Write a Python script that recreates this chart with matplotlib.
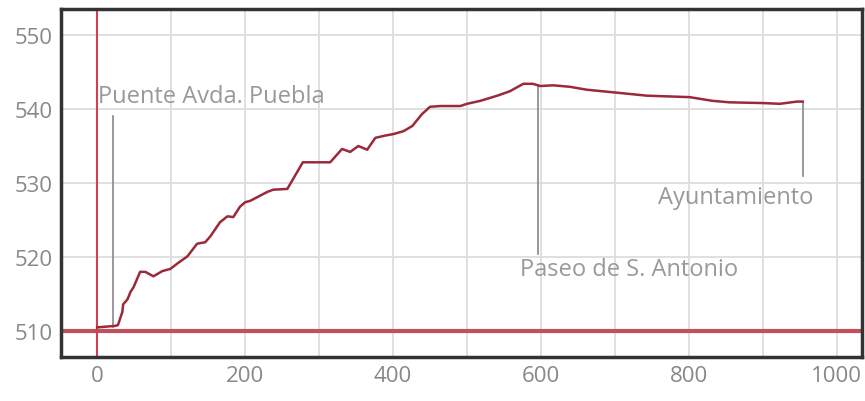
import numpy as np
import matplotlib.pyplot as plt

# -------------------------
# Data
# -------------------------
dist = [0, 24, 28, 34, 35, 41, 45, 49, 58, 65, 76, 88, 99, 108, 122, 135, 146,
        153, 166, 176, 184, 193, 200, 207, 230, 238, 257, 278, 292, 315, 331,
        342, 353, 365, 376, 389, 400, 414, 426, 439, 450, 464, 491, 500, 518,
        541, 558, 576, 589, 599, 616, 639, 662, 703, 743, 801, 832, 855, 900,
        923, 946, 954]
elev = [510.5, 510.7, 510.8, 512.6, 513.6, 514.3, 515.3, 515.9, 518.0, 518.0,
        517.4, 518.1, 518.4, 519.1, 520.1, 521.8, 522.0, 522.8, 524.7, 525.5,
        525.4, 526.8, 527.4, 527.6, 528.8, 529.1, 529.2, 532.8, 532.8, 532.8,
        534.6, 534.2, 535.0, 534.5, 536.1, 536.4, 536.6, 537.0, 537.7, 539.3,
        540.3, 540.4, 540.4, 540.7, 541.1, 541.8, 542.4, 543.4, 543.4, 543.1,
        543.2, 543.0, 542.6, 542.2, 541.8, 541.6, 541.1, 540.9, 540.8, 540.7,
        541.0, 541.0]

base_elev = 510

# label text, marked point, end of leader line, text centre
labels = ["Puente Avda. Puebla", "Paseo de S. Antonio", "Ayuntamiento"]
label_pts = [(22, 510.6), (596, 543.3), (954, 541.0)]
line_end = [539.0, 520.4, 531.0]
label_xy = [(1, 541.8), (719, 518.4), (863, 528.1)]
label_ha = ["left", "center", "center"]

xticks = [0, 200, 400, 600, 800, 1000]
yticks = [510, 520, 530, 540, 550]

# -------------------------
# Plot
# -------------------------
plt.rcParams['font.family'] = ['Open Sans', 'DejaVu Sans']

fig = plt.figure(figsize=(8.65, 4.02), dpi=100)
ax = fig.add_axes([0.0705, 0.1095, 0.926, 0.8655])

ax.set_xlim(-49, 1034)
ax.set_ylim(506.5, 553.5)

ax.set_xticks(np.arange(0, 1001, 100), minor=True)
ax.grid(True, which='both', color='#dddddd', lw=1.3, zorder=0)

ax.axhline(base_elev, color='#c0505a', lw=3, zorder=2)
ax.axvline(0, color='#d04050', lw=1.5, zorder=2)

ax.plot(dist, elev, color='#9a2a3a', lw=1.8, zorder=3)

for lab, pt, ye, xy, ha in zip(labels, label_pts, line_end, label_xy, label_ha):
    ax.plot([pt[0], pt[0]], [pt[1], ye], color='#888888', lw=1.2, zorder=2)
    ax.text(xy[0], xy[1], lab, ha=ha, va='center', color='#999999', fontsize=17)

ax.set_xticks(xticks)
ax.set_yticks(yticks)
ax.tick_params(axis='both', which='both', length=0, colors='#888888',
               labelsize=16, pad=6)

for s in ax.spines.values():
    s.set_color('#333333')
    s.set_linewidth(2.5)

plt.savefig("out.png", dpi=100)
plt.close()
